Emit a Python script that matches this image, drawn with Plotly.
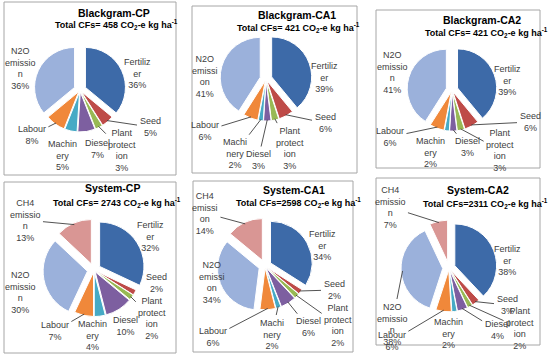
import math
import plotly.graph_objects as go

W, H = 550, 358

# ---------------- data ----------------
categories = ["Fertilizer", "Seed", "Plant protection", "Diesel", "Machinery",
              "Labour", "N2O emission", "CH4 emission"]

titles = ["Blackgram-CP", "Blackgram-CA1", "Blackgram-CA2",
          "System-CP", "System-CA1", "System-CA2"]
totals = ["Total CFs= 458", "Total CFs= 421", "Total CFs= 421",
          "Total CFs= 2743", "Total CFs=2598", "Total CFs=2311"]

bg_cp = [36, 5, 3, 7, 5, 8, 36]
bg_ca1 = [39, 6, 3, 3, 2, 6, 41]
bg_ca2 = [39, 6, 3, 3, 2, 6, 41]
sys_cp = [32, 2, 2, 10, 4, 7, 30, 13]
sys_ca1 = [34, 2, 2, 6, 2, 6, 34, 14]
sys_ca2 = [38, 3, 2, 4, 2, 6, 38, 7]

lab_bg_cp = ["Fertiliz<br>er", "Seed", "Plant<br>protect<br>ion", "Diesel",
             "Machin<br>ery", "Labour", "N2O<br>emissio<br>n"]
lab_bg_ca1 = ["Fertiliz<br>er", "Seed", "Plant<br>protect<br>ion", "Diesel",
              "Machi<br>nery", "Labour", "N2O<br>emissi<br>on"]
lab_bg_ca2 = ["Fertiliz<br>er", "Seed", "Plant<br>protect<br>ion", "Diesel",
              "Machin<br>ery", "Labour", "N2O<br>emissio<br>n"]
lab_sys_cp = ["Fertiliz<br>er", "Seed", "Plant<br>protect<br>ion", "Diesel",
              "Machin<br>ery", "Labour", "N2O<br>emissio<br>n", "CH4<br>emissio<br>n"]
lab_sys_ca1 = ["Fertiliz<br>er", "Seed", "Plant<br>protect<br>ion", "Diesel",
               "Machi<br>nery", "Labour", "N2O<br>emissi<br>on", "CH4<br>emissi<br>on"]
lab_sys_ca2 = ["Fertiliz<br>er", "Seed", "Plant<br>protect<br>ion", "Diesel",
               "Machin<br>ery", "Labour", "N2O<br>emissio<br>n", "CH4<br>emissio<br>n"]

series = [bg_cp, bg_ca1, bg_ca2, sys_cp, sys_ca1, sys_ca2]
labels = [lab_bg_cp, lab_bg_ca1, lab_bg_ca2, lab_sys_cp, lab_sys_ca1, lab_sys_ca2]

# ---------------- layout / style ----------------
colors = {"Fertilizer": "#3D6AA8", "Seed": "#BE4B48", "Plant protection": "#98B954",
          "Diesel": "#7D5FA0", "Machinery": "#46AAC5", "Labour": "#F0883A",
          "N2O emission": "#9BB1DB", "CH4 emission": "#D99694"}
big = {"Fertilizer", "N2O emission", "CH4 emission"}
BIG_PULL, SMALL_PULL = 0.15, 0.05

# pie centre x, centre y, domain size (px)
pies = [(80, 90, 92), (266, 79, 92), (452, 90, 90),
        (94, 270, 102), (265, 266, 96), (449, 268, 96)]
boxes = [(4, 2, 176, 175), (192, 6, 357, 173), (376, 10, 540, 168),
         (4, 182, 176, 353), (193, 181, 353, 352), (376, 178, 540, 345)]
title_pos = [(114, 13), (297, 15), (482, 20), (112, 188), (294, 190), (478, 190)]
sub_pos = [(116, 25), (299, 27), (486, 32), (117, 202), (298, 202), (485, 203)]

# label centres (px), in category order, and whether a leader line is drawn
label_pos = [
    [(137, 73), (150, 127), (122, 150), (97, 149), (62, 155), (32, 135), (20, 68)],
    [(324, 77), (325, 123), (290, 148), (258, 160), (235, 153), (205, 131), (205, 76)],
    [(507, 80), (530, 122), (500, 150), (467, 147), (430, 152), (390, 137), (392, 72)],
    [(150, 236), (156, 283), (152, 318), (125, 326), (92, 335), (55, 331), (20, 292), (25, 220)],
    [(322, 245), (334, 290), (338, 325), (308, 327), (272, 334), (213, 337), (212, 282), (205, 213)],
    [(507, 260), (507, 305), (520, 328), (497, 330), (448, 333), (392, 341), (392, 324), (390, 207)],
]
leaders = [
    [0, 1, 1, 0, 0, 1, 0],
    [0, 1, 1, 1, 1, 1, 0],
    [0, 1, 1, 1, 0, 1, 0],
    [0, 0, 1, 0, 0, 1, 0, 1],
    [0, 1, 1, 1, 1, 1, 0, 1],
    [0, 1, 1, 1, 0, 1, 1, 1],
]

FONT = "Liberation Sans"
fig = go.Figure()
shapes = []
annotations = []
for (x0, y0, x1, y1) in boxes:
    shapes.append(dict(type="rect", xref="paper", yref="paper",
                       x0=x0 / W, x1=x1 / W, y0=1 - y1 / H, y1=1 - y0 / H,
                       line=dict(color="#A6A6A6", width=1), fillcolor="white",
                       layer="below"))

for i, vals in enumerate(series):
    cats = categories[:len(vals)]
    cx, cy, s = pies[i]
    pulls = [BIG_PULL if c in big else SMALL_PULL for c in cats]
    fig.add_trace(go.Pie(
        values=vals, labels=cats, text=labels[i],
        sort=False, direction="clockwise", rotation=0,
        textposition="none", automargin=False,
        marker=dict(colors=[colors[c] for c in cats],
                    line=dict(color="white", width=1)),
        pull=pulls,
        domain=dict(x=[(cx - s / 2) / W, (cx + s / 2) / W],
                    y=[1 - (cy + s / 2) / H, 1 - (cy - s / 2) / H]),
        showlegend=False, hoverinfo="label+value",
    ))
    # slice geometry derived from the data (plotly: r = size / (2 (1 + maxPull)))
    r = s / (2 * (1 + max(pulls)))
    total = sum(vals)
    cum = 0
    for k, v in enumerate(vals):
        mid = (cum + v / 2) / total * 2 * math.pi
        cum += v
        txt = labels[i][k] + "<br>" + str(v) + "%"
        lx, ly = label_pos[i][k]
        font = dict(family=FONT, size=9, color="#404040")
        if leaders[i][k]:
            rho = r * (1 + pulls[k]) * 0.97
            tx = cx + rho * math.sin(mid)
            ty = cy - rho * math.cos(mid)
            annotations.append(dict(
                x=tx / W, y=1 - ty / H, xref="paper", yref="paper",
                ax=lx - tx, ay=ly - ty, axref="pixel", ayref="pixel",
                text=txt, showarrow=True, arrowhead=0, arrowwidth=0.9,
                arrowcolor="#404040", standoff=0, startstandoff=1,
                font=font, align="center"))
        else:
            annotations.append(dict(
                x=lx / W, y=1 - ly / H, xref="paper", yref="paper",
                text=txt, showarrow=False, font=font, align="center",
                xanchor="center", yanchor="middle"))

for i in range(6):
    tx, ty = title_pos[i]
    sx, sy = sub_pos[i]
    annotations.append(dict(x=tx / W, y=1 - ty / H, xref="paper", yref="paper",
                            text="<b>" + titles[i] + "</b>", showarrow=False,
                            font=dict(family=FONT, size=10.5, color="#000000"),
                            xanchor="center", yanchor="middle"))
    annotations.append(dict(x=sx / W, y=1 - sy / H, xref="paper", yref="paper",
                            text="<b>" + totals[i] + " CO<sub>2</sub>-e kg ha<sup>-1</sup></b>",
                            showarrow=False,
                            font=dict(family=FONT, size=9, color="#000000"),
                            xanchor="center", yanchor="middle"))

fig.update_layout(width=W, height=H, margin=dict(l=0, r=0, t=0, b=0, autoexpand=False),
                  paper_bgcolor="white", plot_bgcolor="white",
                  shapes=shapes, annotations=annotations)
fig.write_html("out.html", config={"displayModeBar": False},
               post_script="document.body.style.margin='0px';document.body.style.padding='0px';")
